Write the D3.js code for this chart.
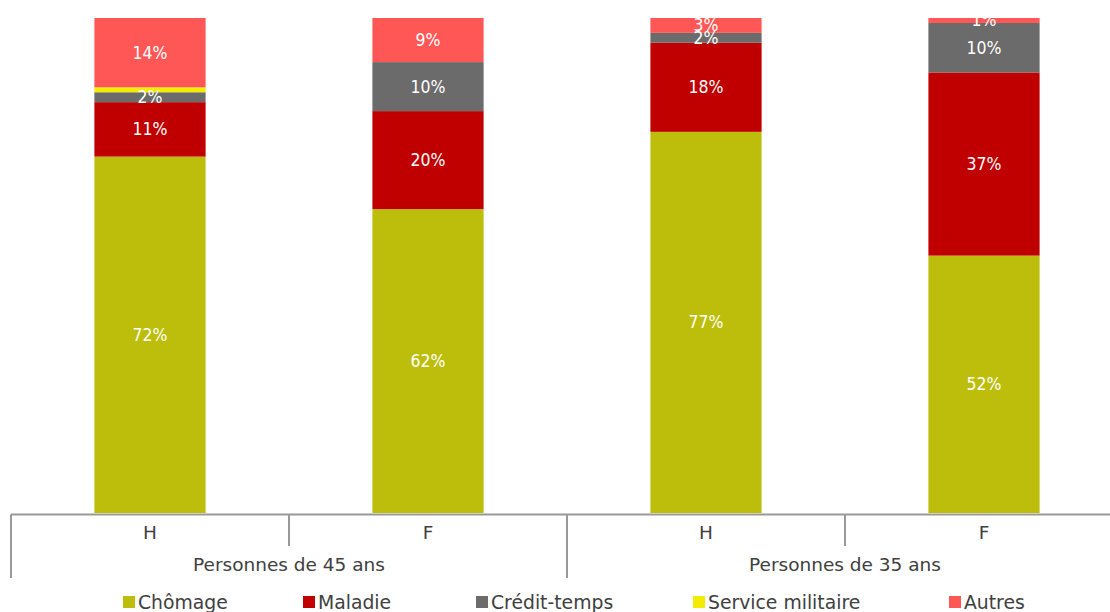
<!DOCTYPE html>
<html>
<head>
<meta charset="utf-8">
<script src="https://cdn.jsdelivr.net/npm/d3@7"></script>
<style>
  html, body { margin: 0; padding: 0; background: #fff; }
  svg { display: block; }
  text { font-family: "DejaVu Sans", sans-serif; }
  .val { font-family: "DejaVu Sans Condensed", "DejaVu Sans", sans-serif; }
</style>
</head>
<body>
<svg id="chart" width="1110" height="612"></svg>
<script>
// Categories (sex) and their groups (age)
const categories = ["H", "F", "H", "F"];
const groups = ["Personnes de 45 ans", "Personnes de 35 ans"];

// Share of each reason, in %, per bar (order: H45, F45, H35, F35)
const seriesNames = ["Chômage", "Maladie", "Crédit-temps", "Service militaire", "Autres"];
const chomage   = [72, 62, 77, 52];
const maladie   = [11, 20, 18, 37];
const credit    = [2, 10, 2, 10];
const militaire = [1, 0, 0, 0];
const autres    = [14, 9, 3, 1];

const colors = ["#BDBE0B", "#C00000", "#6B6B6B", "#F2EC00", "#FF5656"];
// Series whose values are written on the bars
const labelled = [true, true, true, false, true];

const valuesBySeries = [chomage, maladie, credit, militaire, autres];
const rows = categories.map((c, i) => {
  const r = { idx: i };
  seriesNames.forEach((s, j) => { r[s] = valuesBySeries[j][i]; });
  return r;
});

const svg = d3.select("#chart");

const x = d3.scaleBand()
  .domain(d3.range(categories.length))
  .range([11, 1123])
  .paddingInner(0.6)
  .paddingOuter(0.3);

const y = d3.scaleLinear().domain([0, 1]).range([513, 18]);

const stack = d3.stack().keys(seriesNames).offset(d3.stackOffsetExpand);
const stacked = stack(rows);

const layers = svg.append("g").selectAll("g")
  .data(stacked)
  .join("g")
  .attr("fill", (d, i) => colors[i]);

layers.selectAll("rect")
  .data(d => d)
  .join("rect")
  .attr("x", d => x(d.data.idx))
  .attr("width", x.bandwidth())
  .attr("y", d => y(d[1]))
  .attr("height", d => Math.max(0, y(d[0]) - y(d[1])));

// Value labels
const labelG = svg.append("g");
stacked.forEach((layer, i) => {
  if (!labelled[i]) return;
  layer.forEach(d => {
    const v = d.data[layer.key];
    if (!v) return;
    labelG.append("text")
      .attr("class", "val")
      .attr("x", x(d.data.idx) + x.bandwidth() / 2)
      .attr("y", (y(d[0]) + y(d[1])) / 2)
      .attr("text-anchor", "middle")
      .attr("dominant-baseline", "central")
      .attr("fill", "#fff")
      .attr("font-size", 17.5)
      .text(v + "%");
  });
});

// Two-level category axis
const axisColor = "#999";
const axisY = 514.5;
const step = x.step();
const left = x.range()[0];
const axisG = svg.append("g").attr("stroke", axisColor).attr("stroke-width", 2);
axisG.append("line").attr("x1", left).attr("x2", x.range()[1]).attr("y1", axisY).attr("y2", axisY);
// boundaries between categories
d3.range(categories.length + 1).forEach(k => {
  const xx = left + k * step;
  const outer = k % 2 === 0;
  axisG.append("line")
    .attr("x1", xx).attr("x2", xx)
    .attr("y1", axisY).attr("y2", outer ? 578 : 546);
});

svg.append("g").selectAll("text")
  .data(categories)
  .join("text")
  .attr("x", (d, i) => left + (i + 0.5) * step)
  .attr("y", 532)
  .attr("text-anchor", "middle")
  .attr("dominant-baseline", "central")
  .attr("fill", "#404040")
  .attr("font-size", 18.5)
  .text(d => d);

svg.append("g").selectAll("text")
  .data(groups)
  .join("text")
  .attr("x", (d, i) => left + (i * 2 + 1) * step)
  .attr("y", 564)
  .attr("text-anchor", "middle")
  .attr("dominant-baseline", "central")
  .attr("fill", "#404040")
  .attr("font-size", 18.5)
  .text(d => d);

// Legend
const legendX = [123, 303, 476, 693, 949];
const legend = svg.append("g").selectAll("g")
  .data(seriesNames)
  .join("g")
  .attr("transform", (d, i) => `translate(${legendX[i]},596)`);
legend.append("rect").attr("width", 12).attr("height", 12).attr("fill", (d, i) => colors[i]);
legend.append("text")
  .attr("x", 15).attr("y", 6.5)
  .attr("dominant-baseline", "central")
  .attr("fill", "#404040")
  .attr("font-size", 18.8)
  .text(d => d);
</script>
</body>
</html>
